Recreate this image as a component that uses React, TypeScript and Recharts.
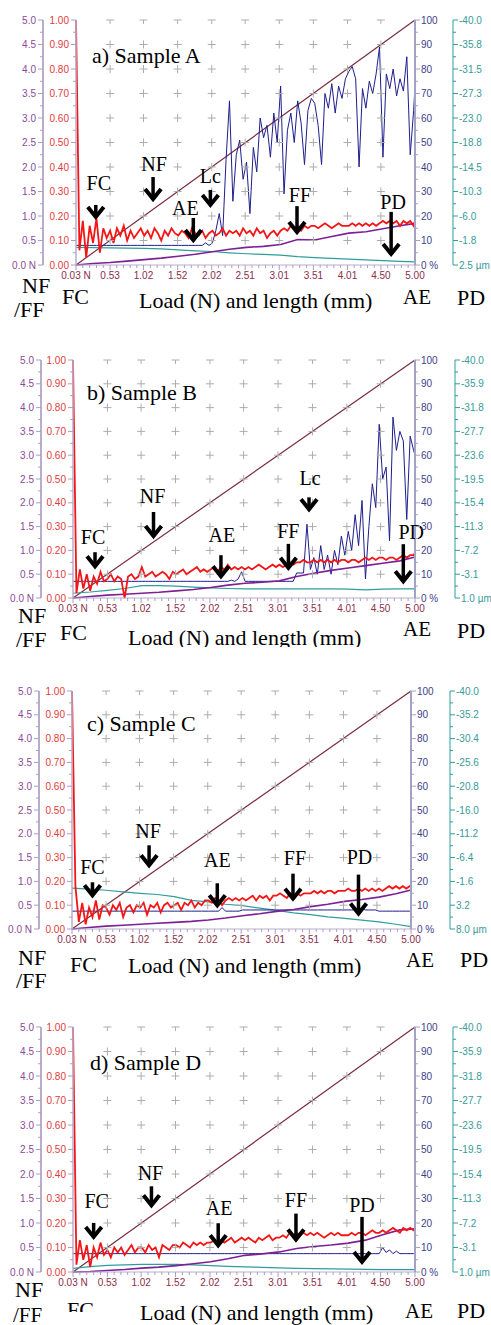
import React from "react";
import { ComposedChart, Line, Scatter, XAxis, YAxis } from "recharts";

// sample positions along the scratch (mm / N)
const xs = [
  0.03, 0.08, 0.13, 0.18, 0.23, 0.28, 0.33, 0.38, 0.43, 0.48,
  0.53, 0.58, 0.63, 0.68, 0.73, 0.78, 0.83, 0.88, 0.93, 0.98,
  1.03, 1.08, 1.13, 1.18, 1.23, 1.28, 1.33, 1.38, 1.43, 1.48,
  1.53, 1.58, 1.63, 1.68, 1.73, 1.78, 1.83, 1.88, 1.93, 1.98,
  2.03, 2.08, 2.13, 2.18, 2.23, 2.28, 2.33, 2.38, 2.43, 2.48,
  2.53, 2.58, 2.63, 2.68, 2.73, 2.78, 2.83, 2.88, 2.93, 2.98,
  3.03, 3.08, 3.13, 3.18, 3.23, 3.28, 3.33, 3.38, 3.43, 3.48,
  3.53, 3.58, 3.63, 3.68, 3.73, 3.78, 3.83, 3.88, 3.93, 3.98,
  4.03, 4.08, 4.13, 4.18, 4.23, 4.28, 4.33, 4.38, 4.43, 4.48,
  4.53, 4.58, 4.63, 4.68, 4.73, 4.78, 4.83, 4.88, 4.93, 4.98,
  5.0,
];
const sparseX = [
  0.03, 0.28, 0.53, 0.78, 1.03, 1.28, 1.53, 1.78, 2.03, 2.28, 2.53,
  2.78, 3.03, 3.28, 3.53, 3.78, 4.03, 4.28, 4.53, 4.78, 5.0,
];
const loadX = [0.03, 5.0];
const loadN = [0, 5];

// axis labels
const xTickValues = [0.03, 0.53, 1.02, 1.52, 2.02, 2.51, 3.01, 3.51, 4.01, 4.5, 5.0];
const xTickLabels = ["0.03 N", "0.53", "1.02", "1.52", "2.02", "2.51", "3.01", "3.51", "4.01", "4.50", "5.00"];
const nfTickLabels = ["0.0 N", "0.5", "1.0", "1.5", "2.0", "2.5", "3.0", "3.5", "4.0", "4.5", "5.0"];
const fcTickLabels = ["0.00", "0.10", "0.20", "0.30", "0.40", "0.50", "0.60", "0.70", "0.80", "0.90", "1.00"];
const aeTickLabels = ["0 %", "10", "20", "30", "40", "50", "60", "70", "80", "90", "100"];
const pdLabelsA = ["-40.0", "-35.8", "-31.5", "-27.3", "-23.0", "-18.8", "-14.5", "-10.3", "-6.0", "-1.8", "2.5 µm"];
const pdLabelsB = ["-40.0", "-35.9", "-31.8", "-27.7", "-23.6", "-19.5", "-15.4", "-11.3", "-7.2", "-3.1", "1.0 µm"];
const pdLabelsC = ["-40.0", "-35.2", "-30.4", "-25.6", "-20.8", "-16.0", "-11.2", "-6.4", "-1.6", "3.2", "8.0 µm"];
const pdLabelsD = ["-40.0", "-35.9", "-31.8", "-27.7", "-23.6", "-19.5", "-15.4", "-11.3", "-7.2", "-3.1", "1.0 µm"];
const gridRows = [0.5, 1.0, 1.5, 2.0, 2.5, 3.0, 3.5, 4.0, 4.5, 5.0];

// ---- Sample A ----
const fcA = [
  1.0, 0.06, 0.18, 0.03, 0.16, 0.09, 0.19, 0.05, 0.15, 0.11,
  0.14, 0.09, 0.15, 0.12, 0.16, 0.1, 0.14, 0.11, 0.13, 0.15,
  0.12, 0.14, 0.11, 0.15, 0.13, 0.1, 0.14, 0.12, 0.15, 0.13,
  0.12, 0.14, 0.13, 0.11, 0.15, 0.13, 0.12, 0.14, 0.11, 0.13,
  0.14, 0.12, 0.13, 0.15, 0.12, 0.14, 0.13, 0.14, 0.12, 0.15,
  0.13, 0.14, 0.12, 0.15, 0.13, 0.14, 0.11, 0.13, 0.14, 0.12,
  0.14, 0.15, 0.14, 0.16, 0.15, 0.16, 0.14, 0.16, 0.15, 0.16,
  0.16, 0.15, 0.16, 0.17, 0.16, 0.15, 0.16, 0.17, 0.16, 0.16,
  0.16, 0.17, 0.16, 0.17, 0.16, 0.17, 0.16, 0.17, 0.16, 0.17,
  0.18, 0.17, 0.18, 0.17, 0.18, 0.16, 0.18, 0.17, 0.18, 0.16,
  0.18,
];
const aeA = [
  8, 8, 8, 8, 8, 8, 8, 8, 8, 8,
  8, 8, 8, 8, 8, 8, 8, 8, 8, 8,
  8, 8, 8, 8, 8, 8, 8, 8, 8, 8,
  8, 8, 8, 8, 8, 8, 8, 8, 9, 8,
  9, 14, 21, 12, 43, 67, 26, 45, 51, 35,
  42, 21, 48, 38, 60, 52, 57, 44, 62, 50,
  73, 29, 55, 62, 50, 67, 58, 41, 63, 68,
  66, 57, 41, 70, 64, 74, 62, 73, 68, 76,
  79, 81, 76, 40, 72, 64, 75, 70, 78, 89,
  44, 78, 72, 80, 69, 76, 71, 85, 45, 63,
  73,
];
const ffA = [0, 0.03, 0.05, 0.08, 0.11, 0.14, 0.18, 0.22, 0.27, 0.32, 0.36, 0.38, 0.42, 0.52, 0.51, 0.58, 0.65, 0.68, 0.74, 0.8, 0.85];
const pdA = [-0.56, -0.52, -0.48, -0.43, -0.39, -0.31, -0.14, 0.04, 0.16, 0.38, 0.55, 0.67, 0.8, 1.06, 1.23, 1.35, 1.48, 1.61, 1.74, 1.86, 1.95];
const arrowsA = [
  { label: "FC", x: 0.32, v: 0.184, len: 15, gap: 15, dx: 3 },
  { label: "NF", x: 1.16, v: 0.257, len: 25, gap: 6, dx: 1 },
  { label: "Lc", x: 2.0, v: 0.233, len: 18, gap: 7, dx: 0 },
  { label: "AE", x: 1.75, v: 0.09, len: 25, gap: 3, dx: -8 },
  { label: "FF", x: 3.27, v: 0.122, len: 29, gap: 4, dx: 3 },
  { label: "PD", x: 4.65, v: 0.033, len: 45, gap: 3, dx: 2 },
];

// ---- Sample B ----
const fcB = [
  1.0, 0.02, 0.12, 0.04, 0.1, 0.03, 0.09, 0.06, 0.11, 0.07,
  0.08, 0.1, 0.07, 0.09, 0.08, 0.0, 0.09, 0.1, 0.08, 0.09,
  0.13, 0.09, 0.1, 0.11, 0.09, 0.1, 0.11, 0.1, 0.08, 0.11,
  0.1, 0.11, 0.12, 0.1, 0.11, 0.12, 0.13, 0.11, 0.12, 0.11,
  0.12, 0.13, 0.11, 0.13, 0.12, 0.14, 0.12, 0.13, 0.12, 0.13,
  0.12, 0.13, 0.12, 0.13, 0.14, 0.13, 0.12, 0.13, 0.14, 0.13,
  0.14, 0.13, 0.14, 0.15, 0.14, 0.15, 0.15, 0.16, 0.15, 0.15,
  0.16, 0.15, 0.16, 0.15, 0.16, 0.15, 0.16, 0.15, 0.16, 0.16,
  0.15, 0.16, 0.16, 0.15, 0.16, 0.17, 0.16, 0.17, 0.16, 0.17,
  0.17, 0.16, 0.17, 0.17, 0.16, 0.17, 0.18, 0.17, 0.18, 0.18,
  0.19,
];
const aeB = [
  7, 7, 7, 7, 7, 7, 7, 7, 7, 7,
  7, 7, 7, 7, 7, 7, 7, 7, 7, 7,
  7, 7, 7, 7, 7, 7, 7, 7, 7, 7,
  7, 7, 7, 7, 7, 7, 7, 7, 7, 7,
  7, 7, 7, 7, 7, 7, 7.5, 7, 8, 11,
  7, 7, 7, 7, 7, 7, 7, 7, 7, 7,
  7, 7, 7, 7, 7, 10.5, 10.5, 10.5, 31, 12,
  17, 10, 22, 12, 18, 10, 20, 14, 26, 18,
  28, 20, 35, 22, 41, 8, 30, 48, 38, 73,
  50, 55, 24, 76, 62, 70, 66, 33, 68, 62,
  60,
];
const ffB = [0, 0.03, 0.06, 0.08, 0.1, 0.12, 0.15, 0.18, 0.22, 0.27, 0.31, 0.33, 0.36, 0.45, 0.52, 0.58, 0.63, 0.68, 0.73, 0.78, 0.86];
const pdB = [0.18, -0.03, -0.31, -0.64, -1.13, -1.13, -1.05, -0.89, -0.76, -0.64, -0.56, -0.56, -0.56, -0.56, -0.56, -0.56, -0.52, -0.4, -0.52, -0.56, -0.56];
const arrowsB = [
  { label: "FC", x: 0.35, v: 0.121, len: 17, gap: 8, dx: -2 },
  { label: "NF", x: 1.2, v: 0.248, len: 27, gap: 9, dx: -1 },
  { label: "AE", x: 2.18, v: 0.079, len: 24, gap: 13, dx: 1 },
  { label: "Lc", x: 3.46, v: 0.36, len: 15, gap: 12, dx: 1 },
  { label: "FF", x: 3.16, v: 0.114, len: 27, gap: 6, dx: 0 },
  { label: "PD", x: 4.83, v: 0.058, len: 40, gap: 5, dx: 8 },
];

// ---- Sample C ----
const fcC = [
  1.0, 0.18, 0.03, 0.11, 0.02, 0.09, 0.05, 0.12, 0.04, 0.1,
  0.09, 0.06, 0.1, 0.08, 0.11, 0.05, 0.09, 0.1, 0.07, 0.1,
  0.09, 0.11, 0.06, 0.1, 0.09, 0.11, 0.07, 0.1, 0.11, 0.09,
  0.1, 0.11, 0.08, 0.11, 0.1, 0.12, 0.09, 0.11, 0.1, 0.12,
  0.12, 0.11, 0.13, 0.12, 0.1, 0.12, 0.13, 0.12, 0.13, 0.12,
  0.13, 0.12, 0.13, 0.14, 0.12, 0.14, 0.13, 0.14, 0.12, 0.14,
  0.14, 0.15, 0.14, 0.13, 0.15, 0.14, 0.15, 0.14, 0.15, 0.15,
  0.15, 0.16, 0.15, 0.16, 0.15, 0.16, 0.16, 0.15, 0.16, 0.16,
  0.16, 0.17, 0.16, 0.16, 0.17, 0.16, 0.17, 0.16, 0.17, 0.16,
  0.17, 0.16, 0.17, 0.18, 0.17, 0.18, 0.17, 0.18, 0.17, 0.18,
  0.18,
];
const aeC = [
  7.5, 7.5, 7.5, 7.5, 7.5, 7.5, 7.5, 7.5, 7.5, 7.5,
  7.5, 7.5, 7.5, 7.5, 7.5, 7.5, 7.5, 7.5, 7.5, 7.5,
  7.5, 7.5, 7.5, 7.5, 7.5, 7.5, 7.5, 7.5, 7.5, 7.5,
  7.5, 7.5, 7.5, 7.5, 7.5, 7.5, 7.5, 7.5, 7.5, 7.5,
  7.5, 7.5, 7.5, 7.5, 9, 7.5, 7.5, 7.5, 7.5, 7.5,
  8, 8, 8, 8, 8, 8, 8, 8, 8, 8,
  8, 8, 8, 8, 8, 8, 8, 8, 8, 8,
  8, 8, 8, 8, 8, 8, 8, 8, 8, 8,
  8, 8, 8, 8, 8, 8.5, 8, 8, 8, 8,
  7.5, 7.5, 7.5, 7.5, 7.5, 7.5, 7.5, 7.5, 7.5, 7.5,
  7.5,
];
const ffC = [0, 0.03, 0.06, 0.08, 0.1, 0.12, 0.14, 0.16, 0.19, 0.23, 0.28, 0.32, 0.37, 0.41, 0.47, 0.52, 0.58, 0.62, 0.67, 0.74, 0.82];
const pdC = [-0.26, -0.06, 0.18, 0.51, 0.8, 1.04, 1.47, 2.24, 2.53, 3.01, 3.3, 3.78, 4.26, 4.74, 5.12, 5.55, 5.84, 6.22, 6.56, 7.04, 7.52];
const arrowsC = [
  { label: "FC", x: 0.33, v: 0.129, len: 16, gap: 8, dx: 0 },
  { label: "NF", x: 1.16, v: 0.255, len: 23, gap: 7, dx: -1 },
  { label: "AE", x: 2.16, v: 0.087, len: 25, gap: 16, dx: 0 },
  { label: "FF", x: 3.27, v: 0.115, len: 28, gap: 9, dx: 2 },
  { label: "PD", x: 4.23, v: 0.052, len: 42, gap: 11, dx: 1 },
];

// ---- Sample D ----
const fcD = [
  1.0, 0.03, 0.13, 0.05, 0.11, 0.02, 0.1, 0.06, 0.12, 0.07,
  0.09, 0.06, 0.1, 0.08, 0.1, 0.07, 0.09, 0.11, 0.08, 0.1,
  0.1, 0.08, 0.11, 0.09, 0.1, 0.06, 0.11, 0.1, 0.09, 0.11,
  0.11, 0.1, 0.12, 0.11, 0.1, 0.12, 0.11, 0.12, 0.11, 0.12,
  0.12, 0.13, 0.11, 0.13, 0.12, 0.13, 0.14, 0.12, 0.13, 0.14,
  0.13, 0.14, 0.13, 0.12, 0.14, 0.13, 0.14, 0.15, 0.13, 0.14,
  0.14, 0.15, 0.14, 0.16, 0.15, 0.16, 0.15, 0.16, 0.15, 0.16,
  0.15, 0.16, 0.15, 0.14, 0.15, 0.16, 0.15, 0.16, 0.15, 0.15,
  0.15, 0.16, 0.15, 0.16, 0.16, 0.15, 0.16, 0.17, 0.16, 0.16,
  0.17, 0.16, 0.17, 0.18, 0.17, 0.16, 0.18, 0.17, 0.18, 0.17,
  0.17,
];
const aeD = [
  7.5, 7.5, 7.5, 7.5, 7.5, 7.5, 7.5, 7.5, 7.5, 7.5,
  7.5, 7.5, 7.5, 7.5, 7.5, 7.5, 7.5, 7.5, 7.5, 7.5,
  7.5, 7.5, 7.5, 7.5, 7.5, 7.5, 7.5, 7.5, 7.5, 7.5,
  7.5, 7.5, 7.5, 7.5, 7.5, 7.5, 7.5, 7.5, 7.5, 7.5,
  7.5, 7.5, 7.5, 7.5, 7.5, 7.5, 7.5, 7.5, 7.5, 7.5,
  7.5, 7.5, 7.5, 7.5, 7.5, 7.5, 7.5, 7.5, 7.5, 7.5,
  7.5, 7.5, 7.5, 7.5, 7.5, 7.5, 7.5, 7.5, 7.5, 7.5,
  7.5, 7.5, 7.5, 7.5, 7.5, 7.5, 7.5, 7.5, 7.5, 7.5,
  7.5, 7.5, 7.5, 7.5, 7.5, 7.5, 7.5, 7.5, 7.5, 7.5,
  10, 8, 9, 7.5, 8.5, 7.5, 7.5, 7.5, 7.5, 7.5,
  7.5,
];
const ffD = [0, 0.01, 0.03, 0.05, 0.08, 0.1, 0.13, 0.17, 0.21, 0.27, 0.34, 0.37, 0.41, 0.48, 0.52, 0.55, 0.59, 0.65, 0.76, 0.86, 0.88];
const pdD = [0.39, 0.1, -0.11, -0.19, -0.27, -0.27, -0.27, -0.19, -0.07, 0.06, 0.14, 0.22, 0.3, 0.39, 0.43, 0.47, 0.51, 0.55, 0.59, 0.59, 0.59];
const arrowsD = [
  { label: "FC", x: 0.33, v: 0.131, len: 17, gap: 15, dx: 3 },
  { label: "NF", x: 1.17, v: 0.26, len: 22, gap: 6, dx: -1 },
  { label: "AE", x: 2.14, v: 0.097, len: 25, gap: 8, dx: 1 },
  { label: "FF", x: 3.27, v: 0.12, len: 29, gap: 7, dx: 0 },
  { label: "PD", x: 4.23, v: 0.029, len: 48, gap: 5, dx: 0 },
];

const W = 491;
const serif = "'Liberation Serif', 'Times New Roman', serif";
const sans = "'Liberation Sans', Arial, sans-serif";

const C = {
  fc: "#f41616",
  ff: "#7d1f96",
  nf: "#7a2c3c",
  ae: "#1e1e8c",
  pd: "#2f9d9d",
  cross: "#adadad",
  nfText: "#8c4a98",
  fcText: "#e23a3c",
  xText: "#8b2d4b",
  aeText: "#3e3e88",
  pdText: "#389a9a",
  lavender: "#bcaccb",
  blueGrey: "#a2a2c6",
};

const panels = [
  { title: "a) Sample A", top: 20, bottom: 265, left: 76, right: 415, nfAxisX: 43, pdAxisX: 453, fc: fcA, ae: aeA, ff: ffA, pd: pdA, pdMax: 2.5, pdLabels: pdLabelsA, arrows: arrowsA },
  { title: "b) Sample B", top: 360, bottom: 598, left: 73, right: 415, nfAxisX: 41, pdAxisX: 455, fc: fcB, ae: aeB, ff: ffB, pd: pdB, pdMax: 1.0, pdLabels: pdLabelsB, arrows: arrowsB },
  { title: "c) Sample C", top: 691, bottom: 929, left: 72, right: 411, nfAxisX: 39, pdAxisX: 450, fc: fcC, ae: aeC, ff: ffC, pd: pdC, pdMax: 8.0, pdLabels: pdLabelsC, arrows: arrowsC },
  { title: "d) Sample D", top: 1027, bottom: 1272, left: 73, right: 415, nfAxisX: 41, pdAxisX: 453, fc: fcD, ae: aeD, ff: ffD, pd: pdD, pdMax: 1.0, pdLabels: pdLabelsD, arrows: arrowsD },
];

// text placed round each panel: [text, x, baseline, size, clipBottom?]
const texts: [string, number, number, number, number?][] = [
  ["a) Sample A", 92, 63, 22], ["NF", 22, 293, 22], ["/FF", 14, 317, 22], ["FC", 62, 304, 22],
  ["Load (N) and length (mm)", 139, 308, 22], ["AE", 403, 304, 21], ["PD", 457, 305, 22],
  ["b) Sample B", 87, 400, 22], ["NF", 18, 623, 22], ["/FF", 16, 647, 22], ["FC", 60, 640, 22],
  ["Load (N) and length (mm)", 128, 645, 22, 647], ["AE", 403, 636, 21], ["PD", 457, 638, 22],
  ["c) Sample C", 87, 731, 22], ["NF", 18, 965, 22], ["/FF", 16, 988, 22], ["FC", 70, 972, 22],
  ["Load (N) and length (mm)", 128, 973, 22], ["AE", 406, 967, 21], ["PD", 460, 967, 22],
  ["d) Sample D", 90, 1070, 22], ["NF", 15, 1297, 22], ["/FF", 13, 1322, 21], ["FC", 67, 1317, 22, 1312],
  ["Load (N) and length (mm)", 140, 1320, 22], ["AE", 405, 1318, 21], ["PD", 457, 1318, 22],
];

const evenTicks = (min: number, max: number) =>
  Array.from({ length: 11 }, (_, i) => min + ((max - min) * i) / 10);

const withMinor = (majors: number[], sub: number) => {
  const out: number[] = [];
  majors.forEach((m, i) => {
    out.push(m);
    if (i < majors.length - 1) {
      const step = (majors[i + 1] - m) / sub;
      for (let k = 1; k < sub; k++) out.push(m + step * k);
    }
  });
  return out;
};

const makeTick =
  (side: "left" | "right" | "bottom", majors: number[], labels: string[], color: string, lineColor: string) =>
  (props: any) => {
    const { x, y, payload } = props;
    const idx = majors.findIndex((m) => Math.abs(m - payload.value) < 1e-6);
    const major = idx >= 0;
    const len = major ? 5 : 3;
    if (side === "left") {
      return (
        <g>
          <line x1={x - len} y1={y} x2={x} y2={y} stroke={lineColor} />
          {major && (
            <text x={x - 7} y={y} dy="0.35em" textAnchor="end" fontSize={10} fontFamily={sans} fill={color}>
              {labels[idx]}
            </text>
          )}
        </g>
      );
    }
    if (side === "right") {
      return (
        <g>
          <line x1={x} y1={y} x2={x + len} y2={y} stroke={lineColor} />
          {major && (
            <text x={x + 6} y={y} dy="0.35em" textAnchor="start" fontSize={10} fontFamily={sans} fill={color}>
              {labels[idx]}
            </text>
          )}
        </g>
      );
    }
    return (
      <g>
        <line x1={x} y1={y} x2={x} y2={y + len} stroke={lineColor} />
        {major && (
          <text x={x} y={y + 14} textAnchor="middle" fontSize={10} fontFamily={sans} fill={color}>
            {labels[idx]}
          </text>
        )}
      </g>
    );
  };

const GridCross = (props: any) => {
  const { cx, cy, payload } = props;
  if (cx == null || cy == null) return null;
  const atTop = payload.v >= 5;
  return (
    <path
      d={`M${cx - 4},${cy}H${cx + 4}M${cx},${atTop ? cy : cy - 4}V${cy + 4}`}
      stroke={C.cross}
      strokeWidth={1}
      fill="none"
    />
  );
};

const ArrowMark = (props: any) => {
  const { cx, cy, payload } = props;
  if (cx == null || cy == null) return null;
  const top = cy - payload.len;
  return (
    <g>
      <line x1={cx} y1={top} x2={cx} y2={cy - 4} stroke="#000" strokeWidth={3.5} />
      <polyline
        points={`${cx - 8},${cy - 13} ${cx},${cy - 3} ${cx + 8},${cy - 13}`}
        fill="none"
        stroke="#000"
        strokeWidth={4}
      />
      <text x={cx + payload.dx} y={top - payload.gap} textAnchor="middle" fontFamily={serif} fontSize={20} fill="#000">
        {payload.label}
      </text>
    </g>
  );
};

const gridData = xTickValues.slice(1, -1).flatMap((x) => gridRows.map((v) => ({ x, v })));
const loadData = loadX.map((x, i) => ({ x, v: loadN[i] }));

const Panel = ({ p }: { p: (typeof panels)[number] }) => {
  const plotH = p.bottom - p.top;
  const mTop = 10;
  const xAxisH = 22;
  const nfMajors = evenTicks(0, 5);
  const fcMajors = evenTicks(0, 1);
  const aeMajors = evenTicks(0, 100);
  const pdMajors = evenTicks(-40, p.pdMax);
  const fcData = xs.map((x, i) => ({ x, v: p.fc[i] }));
  const aeData = xs.map((x, i) => ({ x, v: p.ae[i] }));
  const ffData = sparseX.map((x, i) => ({ x, v: p.ff[i] }));
  const pdData = sparseX.map((x, i) => ({ x, v: p.pd[i] }));

  return (
    <div style={{ position: "absolute", left: 0, top: p.top - mTop }}>
      <ComposedChart width={W} height={plotH + mTop + xAxisH} margin={{ top: mTop, right: 0, bottom: 0, left: 0 }}>
        <XAxis
          dataKey="x"
          type="number"
          domain={[0.03, 5]}
          ticks={withMinor(xTickValues, 5)}
          interval={0}
          height={xAxisH}
          tickSize={0}
          tickMargin={0}
          tickLine={false}
          axisLine={{ stroke: C.lavender }}
          tick={makeTick("bottom", xTickValues, xTickLabels, C.xText, C.blueGrey)}
        />
        <YAxis
          yAxisId="fc"
          type="number"
          domain={[0, 1]}
          width={p.left - p.nfAxisX}
          ticks={withMinor(fcMajors, 2)}
          interval={0}
          tickSize={0}
          tickMargin={0}
          tickLine={false}
          axisLine={{ stroke: C.lavender, strokeWidth: 1.5 }}
          tick={makeTick("left", fcMajors, fcTickLabels, C.fcText, C.blueGrey)}
        />
        <YAxis
          yAxisId="nf"
          type="number"
          domain={[0, 5]}
          width={p.nfAxisX}
          ticks={withMinor(nfMajors, 2)}
          interval={0}
          tickSize={0}
          tickMargin={0}
          tickLine={false}
          axisLine={{ stroke: C.lavender, strokeWidth: 2 }}
          tick={makeTick("left", nfMajors, nfTickLabels, C.nfText, C.blueGrey)}
        />
        <YAxis
          yAxisId="ae"
          orientation="right"
          type="number"
          domain={[0, 100]}
          width={p.pdAxisX - p.right}
          ticks={withMinor(aeMajors, 2)}
          interval={0}
          tickSize={0}
          tickMargin={0}
          tickLine={false}
          axisLine={{ stroke: C.blueGrey, strokeWidth: 2 }}
          tick={makeTick("right", aeMajors, aeTickLabels, C.aeText, C.blueGrey)}
        />
        <YAxis
          yAxisId="pd"
          orientation="right"
          type="number"
          domain={[-40, p.pdMax]}
          reversed
          width={W - p.pdAxisX}
          ticks={withMinor(pdMajors, 2)}
          interval={0}
          tickSize={0}
          tickMargin={0}
          tickLine={false}
          axisLine={{ stroke: C.pd }}
          tick={makeTick("right", pdMajors, p.pdLabels, C.pdText, C.pd)}
        />
        <Scatter yAxisId="nf" data={gridData} dataKey="v" shape={GridCross} isAnimationActive={false} />
        <Line yAxisId="nf" data={loadData} dataKey="v" stroke={C.nf} strokeWidth={1.2} dot={false} isAnimationActive={false} />
        <Line yAxisId="pd" data={pdData} dataKey="v" stroke={C.pd} strokeWidth={1.2} dot={false} isAnimationActive={false} />
        <Line yAxisId="ae" data={aeData} dataKey="v" stroke={C.ae} strokeWidth={1} dot={false} isAnimationActive={false} />
        <Line yAxisId="nf" data={ffData} dataKey="v" stroke={C.ff} strokeWidth={1.6} dot={false} isAnimationActive={false} />
        <Line yAxisId="fc" data={fcData} dataKey="v" stroke={C.fc} strokeWidth={1.8} dot={false} isAnimationActive={false} />
        <Scatter yAxisId="fc" data={p.arrows} dataKey="v" shape={ArrowMark} isAnimationActive={false} />
      </ComposedChart>
    </div>
  );
};

export default function App() {
  return (
    <div style={{ position: "absolute", left: 0, top: 0, width: W, height: 1325, background: "#fff", overflow: "hidden" }}>
      {panels.map((p) => (
        <Panel key={p.title} p={p} />
      ))}
      <svg width={W} height={1325} style={{ position: "absolute", left: 0, top: 0, pointerEvents: "none" }}>
        <defs>
          {texts.map((t, i) =>
            t[4] ? (
              <clipPath id={`clip-${i}`} key={i}>
                <rect x={0} y={0} width={W} height={t[4]} />
              </clipPath>
            ) : null
          )}
        </defs>
        {texts.map((t, i) => (
          <text
            key={i}
            x={t[1]}
            y={t[2]}
            fontFamily={serif}
            fontSize={t[3]}
            fill="#000"
            clipPath={t[4] ? `url(#clip-${i})` : undefined}
          >
            {t[0]}
          </text>
        ))}
      </svg>
    </div>
  );
}
